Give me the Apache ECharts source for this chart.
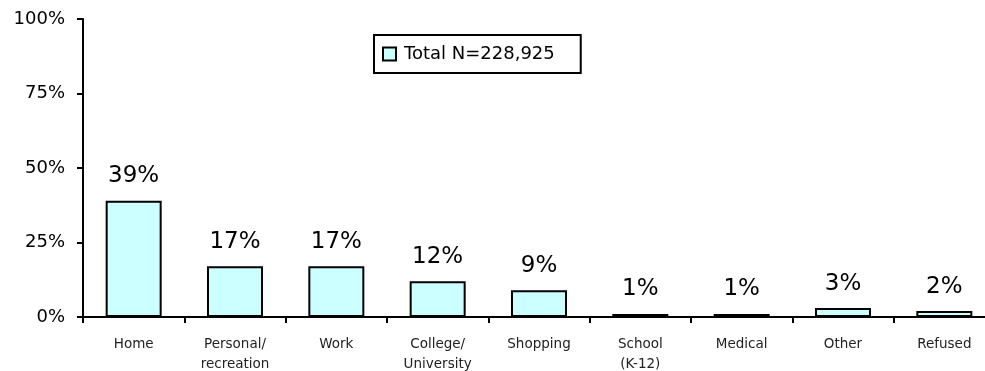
<!DOCTYPE html>
<html>
<head>
<meta charset="utf-8">
<script src="https://cdn.jsdelivr.net/npm/echarts@6/dist/echarts.min.js"></script>
<style>
  html, body { margin: 0; padding: 0; background: #fff; overflow: hidden; }
  #chart { width: 985px; height: 371px; }
</style>
</head>
<body>
<div id="chart"></div>
<script>
var categories = ['Home', 'Personal/\nrecreation', 'Work', 'College/\nUniversity', 'Shopping', 'School\n(K-12)', 'Medical', 'Other', 'Refused']
var values = [39, 17, 17, 12, 9, 1, 1, 3, 2]
var seriesName = 'Total N=228,925'

var font = 'Tahoma, "DejaVu Sans", sans-serif'
var chart = echarts.init(document.getElementById('chart'))

var option = {
  animation: false,
  textStyle: { fontFamily: font, color: '#000' },
  grid: {
    left: 83,
    width: 912, // axis runs past the right edge like the original
    top: 19,
    bottom: 54,
    containLabel: false,
    outerBoundsMode: 'none'
  },
  legend: {
    left: 374,
    top: 35,
    padding: [10, 26, 10, 8],
    itemWidth: 13,
    itemHeight: 13,
    itemGap: 4,
    borderColor: '#000',
    borderWidth: 2,
    backgroundColor: '#fff',
    textStyle: { fontFamily: font, fontSize: 18, color: '#000', padding: [0, 0, 0, 3] },
    data: [{ name: seriesName, icon: 'rect' }]
  },
  xAxis: {
    type: 'category',
    data: categories,
    axisLine: { lineStyle: { color: '#000', width: 2 } },
    axisTick: { show: true, interval: 0, length: 6, lineStyle: { color: '#000', width: 2 } },
    axisLabel: {
      interval: 0,
      fontFamily: font,
      fontSize: 13.5,
      color: '#222',
      margin: 17,
      lineHeight: 20
    }
  },
  yAxis: {
    type: 'value',
    min: 0,
    max: 100,
    interval: 25,
    axisLine: { show: true, lineStyle: { color: '#000', width: 2 } },
    axisTick: { show: true, length: 6, lineStyle: { color: '#000', width: 2 } },
    splitLine: { show: false },
    axisLabel: {
      formatter: '{value}%',
      fontFamily: font,
      fontSize: 18,
      color: '#000',
      margin: 18
    }
  },
  series: [
    {
      name: seriesName,
      type: 'bar',
      data: values,
      barWidth: 56,
      itemStyle: {
        color: '#ccffff',
        borderColor: '#000',
        borderWidth: 2
      },
      label: {
        show: true,
        position: 'top',
        distance: 13,
        formatter: '{c}%',
        fontFamily: font,
        fontSize: 23,
        color: '#000'
      }
    }
  ]
}
chart.setOption(option)
</script>
</body>
</html>
